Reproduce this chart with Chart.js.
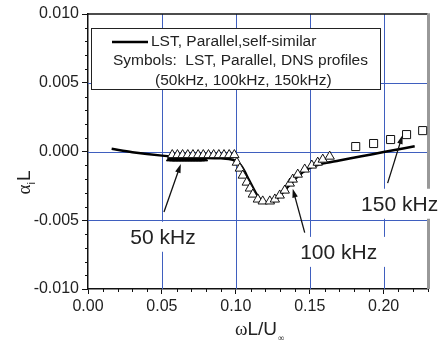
<!DOCTYPE html>
<html>
<head>
<meta charset="utf-8">
<script src="https://cdn.jsdelivr.net/npm/chart.js@4.4.1/dist/chart.umd.min.js"></script>
<style>
  html, body { margin: 0; padding: 0; background: #fff; }
  #wrap { width: 439px; height: 345px; }
</style>
</head>
<body>
<div id="wrap"><canvas id="alphaChart"></canvas></div>
<script>
const X_TICKS = [0, 0.05, 0.10, 0.15, 0.20]
const Y_TICKS = [-0.010, -0.005, 0, 0.005, 0.010]

// LST, parallel, self-similar (solid line)
const LST_X = [0.016, 0.03, 0.05, 0.07, 0.09, 0.098, 0.104, 0.109, 0.114, 0.119, 0.124, 0.129, 0.135, 0.142, 0.15, 0.158, 0.17, 0.185, 0.20, 0.221]
const LST_Y = [0.0002, -0.00005, -0.0003, -0.00045, -0.0005, -0.0006, -0.0011, -0.0021, -0.0031, -0.0037, -0.0037, -0.0033, -0.0026, -0.0018, -0.0012, -0.0009, -0.00065, -0.00035, -0.00004, 0.00038]

// DNS profiles, 50 kHz (filled triangles)
const K50_X = [0.056, 0.058, 0.060, 0.062, 0.064, 0.066, 0.068, 0.070, 0.072, 0.074, 0.076, 0.078]
const K50_Y = [-0.0005, -0.0005, -0.0005, -0.0005, -0.0005, -0.0005, -0.0005, -0.0005, -0.0005, -0.0005, -0.0005, -0.0005]

// DNS profiles, 100 kHz (open triangles)
const K100_X = [0.057, 0.0605, 0.064, 0.0675, 0.071, 0.0745, 0.078, 0.0815, 0.085, 0.0885, 0.092, 0.0955, 0.099,
  0.1007, 0.1027, 0.1047, 0.1074, 0.1095, 0.1115, 0.1149, 0.1182, 0.123, 0.1264, 0.1297, 0.1331, 0.1365,
  0.1385, 0.1419, 0.1466, 0.1514, 0.1554, 0.1588, 0.1635]
const K100_Y = [-0.00025, -0.00025, -0.00025, -0.00025, -0.00025, -0.00025, -0.00025, -0.00025, -0.00025, -0.00025, -0.00025, -0.00025, -0.00025,
  -0.0008, -0.00123, -0.00174, -0.00225, -0.00268, -0.00312, -0.00348, -0.00362, -0.00362, -0.00348, -0.00319, -0.00283, -0.00232,
  -0.00203, -0.00167, -0.0013, -0.00101, -0.0008, -0.00058, -0.00036]

// DNS profiles, 150 kHz (open squares)
const K150_X = [0.1811, 0.1932, 0.2047, 0.2155, 0.2264]
const K150_Y = [0.00036, 0.00058, 0.00087, 0.00123, 0.00152]

// annotations (data units)
const NOTE_TEXT = ['50 kHz', '100 kHz', '150 kHz']
const NOTE_AT = [[0.0507, -0.0062], [0.1696, -0.0073], [0.2108, -0.0038]]
const ARROW_FROM = [[0.0514, -0.0044], [0.1466, -0.0059], [0.2027, -0.0023]]
const ARROW_TO = [[0.0628, -0.0009], [0.1385, -0.0027], [0.2128, 0.0012]]

const LEGEND_LINES = ['LST, Parallel,self-similar', 'Symbols:  LST, Parallel, DNS profiles', '(50kHz, 100kHz, 150kHz)']

const GRID_BLUE = '#3f5fbf'
const SANS = '"Liberation Sans", Arial, sans-serif'
const SERIF = '"Liberation Serif", "DejaVu Serif", serif'

const toPts = (xs, ys) => xs.map((x, i) => ({ x: x, y: ys[i] }))

function drawArrow(ctx, x0, y0, x1, y1) {
  const ang = Math.atan2(y1 - y0, x1 - x0)
  const len = 9, half = 2.8
  ctx.strokeStyle = '#111'
  ctx.lineWidth = 1.3
  ctx.beginPath()
  ctx.moveTo(x0, y0)
  ctx.lineTo(x1 - Math.cos(ang) * len * 0.8, y1 - Math.sin(ang) * len * 0.8)
  ctx.stroke()
  ctx.fillStyle = '#111'
  ctx.beginPath()
  ctx.moveTo(x1, y1)
  ctx.lineTo(x1 - Math.cos(ang) * len - Math.sin(ang) * half, y1 - Math.sin(ang) * len + Math.cos(ang) * half)
  ctx.lineTo(x1 - Math.cos(ang) * len + Math.sin(ang) * half, y1 - Math.sin(ang) * len - Math.cos(ang) * half)
  ctx.closePath()
  ctx.fill()
}

const decorPlugin = {
  id: 'decor',
  beforeDatasetsDraw(chart) {
    const { ctx, chartArea: a, scales: { x, y } } = chart
    ctx.save()
    // blue grid lines inside the frame
    ctx.strokeStyle = GRID_BLUE
    ctx.lineWidth = 1
    X_TICKS.forEach(v => {
      if (v <= 0) return
      const px = Math.round(x.getPixelForValue(v)) + 0.5
      ctx.beginPath(); ctx.moveTo(px, a.top); ctx.lineTo(px, a.bottom); ctx.stroke()
    })
    Y_TICKS.forEach(v => {
      if (Math.abs(v) > 0.009) return
      const py = Math.round(y.getPixelForValue(v)) + 0.5
      ctx.beginPath(); ctx.moveTo(a.left, py); ctx.lineTo(a.right, py); ctx.stroke()
    })
    // top frame + grey right frame
    ctx.strokeStyle = '#111'
    ctx.lineWidth = 1.5
    ctx.beginPath(); ctx.moveTo(a.left, a.top); ctx.lineTo(a.right, a.top); ctx.stroke()
    ctx.strokeStyle = '#999'
    ctx.lineWidth = 3
    ctx.beginPath(); ctx.moveTo(a.right + 0.5, a.top - 0.75); ctx.lineTo(a.right + 0.5, a.bottom); ctx.stroke()
    // minor ticks
    ctx.strokeStyle = '#111'
    ctx.lineWidth = 1
    for (let i = 1; i <= 23; i++) {
      if (i % 5 === 0) continue
      const px = Math.round(x.getPixelForValue(i / 100)) + 0.5
      ctx.beginPath(); ctx.moveTo(px, a.bottom); ctx.lineTo(px, a.bottom + 3); ctx.stroke()
    }
    for (let j = -10; j <= 10; j++) {
      if (j % 5 === 0) continue
      const py = Math.round(y.getPixelForValue(j / 1000)) + 0.5
      ctx.beginPath(); ctx.moveTo(a.left - 3, py); ctx.lineTo(a.left, py); ctx.stroke()
    }
    ctx.restore()
  },
  afterDatasetsDraw(chart) {
    const { ctx, chartArea: a, scales: { x, y } } = chart
    ctx.save()
    // legend box
    const lx = a.left + 3, ly = a.top + 14, lw = 289, lh = 61
    ctx.fillStyle = '#fff'
    ctx.fillRect(lx, ly, lw, lh)
    ctx.strokeStyle = '#222'
    ctx.lineWidth = 1
    ctx.strokeRect(lx + 0.5, ly + 0.5, lw, lh)
    ctx.strokeStyle = '#000'
    ctx.lineWidth = 2.5
    ctx.beginPath(); ctx.moveTo(lx + 21, ly + 14); ctx.lineTo(lx + 57, ly + 14); ctx.stroke()
    ctx.fillStyle = '#222'
    ctx.font = '15.5px ' + SANS
    ctx.textBaseline = 'middle'
    ctx.textAlign = 'left'
    ctx.fillText(LEGEND_LINES[0], lx + 60, ly + 14)
    ctx.fillText(LEGEND_LINES[1], lx + 22, ly + 33)
    ctx.fillText(LEGEND_LINES[2], lx + 64, ly + 53)

    // frequency labels with white boxes and arrows
    ctx.font = '21px ' + SANS
    ctx.textAlign = 'center'
    NOTE_TEXT.forEach((t, i) => {
      const cx = x.getPixelForValue(NOTE_AT[i][0])
      const cy = y.getPixelForValue(NOTE_AT[i][1])
      const w = ctx.measureText(t).width + 16
      ctx.fillStyle = '#fff'
      ctx.fillRect(cx - w / 2, cy - 15, w, 30)
      ctx.fillStyle = '#222'
      ctx.fillText(t, cx, cy + 1)
      drawArrow(ctx,
        x.getPixelForValue(ARROW_FROM[i][0]), y.getPixelForValue(ARROW_FROM[i][1]),
        x.getPixelForValue(ARROW_TO[i][0]), y.getPixelForValue(ARROW_TO[i][1]))
    })
    ctx.restore()
  },
  afterDraw(chart) {
    const { ctx, chartArea: a } = chart
    ctx.save()
    ctx.fillStyle = '#222'
    ctx.textBaseline = 'alphabetic'
    ctx.textAlign = 'left'
    // x title: ωL/U∞
    const xt = 'L/U'
    ctx.font = '19px ' + SERIF
    const wOm = ctx.measureText('ω').width
    ctx.font = '19px ' + SANS
    const wRest = ctx.measureText(xt).width
    let sx = (a.left + a.right) / 2 - (wOm + wRest) / 2 - 2
    const by = 335
    ctx.font = '19px ' + SERIF
    ctx.fillText('ω', sx, by)
    ctx.font = '19px ' + SANS
    ctx.fillText(xt, sx + wOm, by)
    ctx.font = '9px ' + SERIF
    ctx.fillText('∞', sx + wOm + wRest + 1, by + 6)

    // y title: α_i L (rotated)
    ctx.translate(30, 183)
    ctx.rotate(-Math.PI / 2)
    ctx.font = '19px ' + SERIF
    const wA = ctx.measureText('α').width
    ctx.font = '11px ' + SANS
    const wI = ctx.measureText('i').width
    ctx.font = '19px ' + SANS
    const wL = ctx.measureText('L').width
    let tx = -(wA + wI + wL) / 2
    ctx.font = '19px ' + SERIF
    ctx.fillText('α', tx, 0)
    ctx.font = '11px ' + SANS
    ctx.fillText('i', tx + wA, 5)
    ctx.font = '19px ' + SANS
    ctx.fillText('L', tx + wA + wI + 1, 0)
    ctx.restore()
  }
}

const alphaCtx = document.getElementById('alphaChart')

new Chart(alphaCtx, {
  type: 'scatter',
  data: {
    datasets: [{
      label: 'LST, Parallel,self-similar',
      type: 'line',
      data: toPts(LST_X, LST_Y),
      borderColor: '#000',
      borderWidth: 2.5,
      pointRadius: 0,
      fill: false,
      cubicInterpolationMode: 'monotone',
      order: 3
    }, {
      label: '50 kHz',
      data: toPts(K50_X, K50_Y),
      pointStyle: 'triangle',
      pointRadius: 5,
      backgroundColor: '#000',
      borderColor: '#000',
      borderWidth: 1,
      order: 2
    }, {
      label: '100 kHz',
      data: toPts(K100_X, K100_Y),
      pointStyle: 'triangle',
      pointRadius: 5.4,
      backgroundColor: '#fff',
      borderColor: '#111',
      borderWidth: 1,
      order: 1
    }, {
      label: '150 kHz',
      data: toPts(K150_X, K150_Y),
      pointStyle: 'rect',
      pointRadius: 5.7,
      backgroundColor: '#fff',
      borderColor: '#111',
      borderWidth: 1,
      order: 1
    }]
  },
  options: {
    responsive: true,
    maintainAspectRatio: false,
    animation: false,
    layout: { padding: { top: 14, right: 11, left: 0, bottom: 0 } },
    plugins: {
      legend: { display: false },
      tooltip: { enabled: false }
    },
    scales: {
      x: {
        type: 'linear',
        min: 0,
        max: 0.23,
        afterBuildTicks: s => { s.ticks = X_TICKS.map(v => ({ value: v })) },
        afterFit: s => { s.height = 56 },
        grid: {
          drawOnChartArea: false,
          tickColor: '#111',
          tickLength: 5
        },
        border: { color: '#111', width: 1.5 },
        ticks: {
          color: '#222',
          font: { family: SANS, size: 16 },
          padding: 3,
          maxRotation: 0,
          callback: v => v.toFixed(2)
        }
      },
      y: {
        min: -0.01,
        max: 0.01,
        afterBuildTicks: s => { s.ticks = Y_TICKS.map(v => ({ value: v })) },
        afterFit: s => { s.width = 88 },
        grid: {
          drawOnChartArea: false,
          tickColor: '#111',
          tickLength: 6
        },
        border: { color: '#111', width: 1.5 },
        ticks: {
          color: '#222',
          font: { family: SANS, size: 16 },
          padding: 3,
          callback: v => v.toFixed(3)
        }
      }
    }
  },
  plugins: [decorPlugin]
})
</script>
</body>
</html>
